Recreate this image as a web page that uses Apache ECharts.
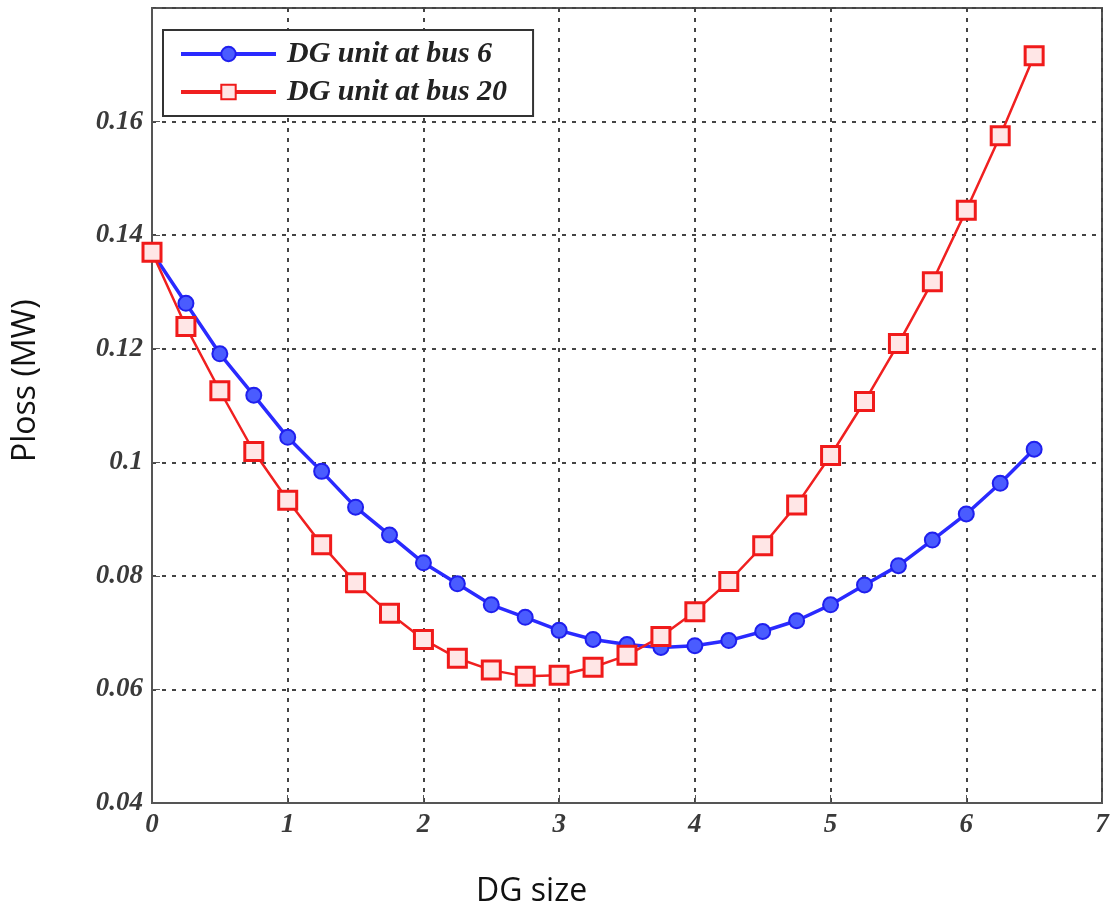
<!DOCTYPE html>
<html>
<head>
<meta charset="utf-8">
<script src="https://cdn.jsdelivr.net/npm/echarts@6/dist/echarts.min.js"></script>
<style>html,body{margin:0;padding:0;background:#fff}#c{width:1114px;height:915px}</style>
</head>
<body>
<div id="c"></div>
<script>
const dgSize = [0,0.25,0.5,0.75,1,1.25,1.5,1.75,2,2.25,2.5,2.75,3,3.25,3.5,3.75,4,4.25,4.5,4.75,5,5.25,5.5,5.75,6,6.25,6.5];
const bus6 = [0.137,0.128,0.1191,0.1118,0.1044,0.0984,0.0921,0.0872,0.0823,0.0786,0.0749,0.0727,0.0704,0.0688,0.0679,0.0674,0.0677,0.0686,0.0702,0.0721,0.0749,0.0784,0.0818,0.0863,0.0909,0.0963,0.1023];
const bus20 = [0.137,0.1239,0.1126,0.1019,0.0933,0.0855,0.0788,0.0734,0.0688,0.0655,0.0634,0.0623,0.0625,0.0639,0.066,0.0693,0.0737,0.079,0.0853,0.0925,0.1012,0.1107,0.1209,0.1318,0.1444,0.1575,0.1716];
const seriesNames = ['DG unit at bus 6','DG unit at bus 20'];
const xTitle = 'DG size';
const yTitle = 'Ploss (MW)';

const tickFont = {fontFamily:'Liberation Serif', fontStyle:'italic', fontWeight:'bold', fontSize:27, color:'#3a3a3a'};
const chart = echarts.init(document.getElementById('c'));
chart.setOption({
  animation:false,
  backgroundColor:'#fff',
  grid:{left:152, right:12, top:8, bottom:112, show:true, borderColor:'#555', borderWidth:2, backgroundColor:'#fff'},
  xAxis:{type:'value', min:0, max:7, interval:1,
    axisLine:{show:true, lineStyle:{color:'#555', width:2}},
    axisTick:{show:true, inside:true, length:8, lineStyle:{color:'#555'}},
    splitLine:{show:true, lineStyle:{type:[4,6], color:'#444', width:2}},
    axisLabel:Object.assign({margin:9}, tickFont)},
  yAxis:{type:'value', min:0.04, max:0.18, interval:0.02,
    axisLine:{show:true, lineStyle:{color:'#555', width:2}},
    axisTick:{show:true, inside:true, length:8, lineStyle:{color:'#555'}},
    splitLine:{show:true, lineStyle:{type:[4,6], color:'#444', width:2}},
    axisLabel:Object.assign({margin:9, formatter:function(v){ if (Math.abs(v-0.18)<1e-6) return ''; return String(+v.toFixed(2)); }}, tickFont)},
  legend:{left:163, top:30, orient:'vertical', backgroundColor:'#fff', borderColor:'#333', borderWidth:2, padding:[9,26,9,16],
    itemWidth:95, itemHeight:18, itemGap:8,
    lineStyle:{width:4},
    textStyle:{fontFamily:'Liberation Serif', fontStyle:'italic', fontWeight:'bold', fontSize:30, color:'#222', padding:[0,0,0,6]},
    data:seriesNames},
  graphic:[
    {type:'text', left:476, top:876, style:{text:xTitle, font:'32px "Open Sans"', fill:'#111'}},
    {type:'text', x:10, y:462, rotation:Math.PI/2, style:{text:yTitle, font:'32px "Open Sans"', fill:'#111'}}
  ],
  series:[
    {name:seriesNames[0], type:'line', data:dgSize.map((x,i)=>[x,bus6[i]]),
      symbol:'circle', symbolSize:15,
      lineStyle:{color:'#2a2aff', width:3.5},
      itemStyle:{color:'#4a5cff', borderColor:'#1f1fee', borderWidth:2}},
    {name:seriesNames[1], type:'line', data:dgSize.map((x,i)=>[x,bus20[i]]),
      symbol:'rect', symbolSize:18,
      lineStyle:{color:'#f02020', width:2.5},
      itemStyle:{color:'#ffe6e6', borderColor:'#f01a1a', borderWidth:3}}
  ]
});
</script>
</body>
</html>
